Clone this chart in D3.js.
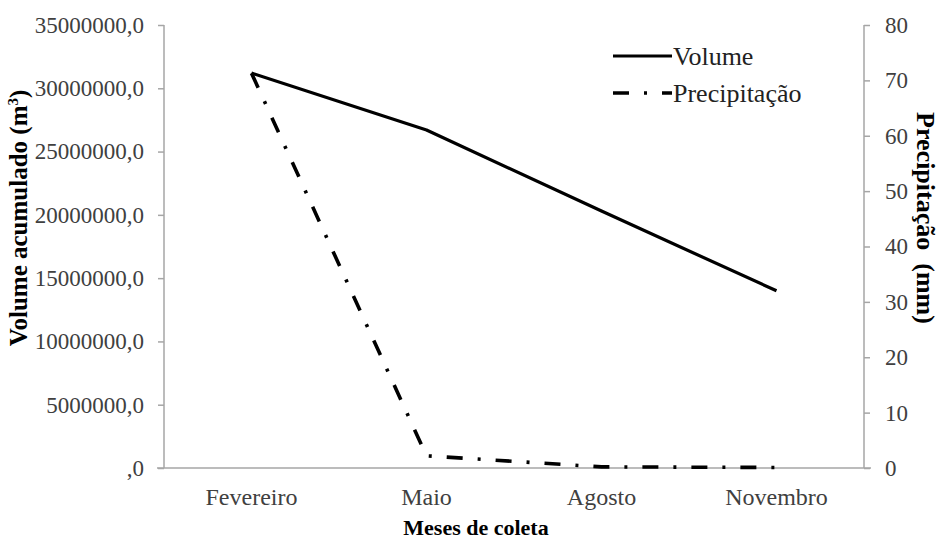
<!DOCTYPE html>
<html>
<head>
<meta charset="utf-8">
<script src="https://cdn.jsdelivr.net/npm/d3@7"></script>
<style>
  html, body { margin: 0; padding: 0; background: #fff; }
  svg { display: block; }
</style>
</head>
<body>
<svg id="chart" width="939" height="541"></svg>
<script>
// Collection months and series
const months = ["Fevereiro", "Maio", "Agosto", "Novembro"];
const volume = [31200000, 26700000, 20300000, 14000000];     // m³ accumulated
const precipitation = [71.3, 2.2, 0.2, 0.1];                 // mm

// Axis ticks and their printed labels
const volumeTicks = [0, 5000000, 10000000, 15000000, 20000000, 25000000, 30000000, 35000000];
const volumeTickLabels = [",0", "5000000,0", "10000000,0", "15000000,0", "20000000,0", "25000000,0", "30000000,0", "35000000,0"];
const precipTicks = [0, 10, 20, 30, 40, 50, 60, 70, 80];
const precipTickLabels = ["0", "10", "20", "30", "40", "50", "60", "70", "80"];

const seriesNames = ["Volume", "Precipitação"];

const svg = d3.select("#chart");
const plotLeft = 164, plotRight = 864, plotTop = 25, plotBottom = 468;
const serif = "'Liberation Serif', 'DejaVu Serif', serif";
const axisColor = "#a6a6a6";
const tickText = "#404040";
const dashDot = "16,15,3,15";

const x = d3.scaleBand().domain(months).range([plotLeft, plotRight]);
const yVol = d3.scaleLinear().domain([0, 35000000]).range([plotBottom, plotTop]);
const yPre = d3.scaleLinear().domain([0, 80]).range([plotBottom, plotTop]);

// Left axis (volume)
const leftAxis = svg.append("g")
  .attr("transform", `translate(${plotLeft},0)`)
  .call(d3.axisLeft(yVol).tickValues(volumeTicks)
    .tickFormat((d, i) => volumeTickLabels[i]).tickSize(6).tickPadding(14));
// Right axis (precipitation)
const rightAxis = svg.append("g")
  .attr("transform", `translate(${plotRight},0)`)
  .call(d3.axisRight(yPre).tickValues(precipTicks)
    .tickFormat((d, i) => precipTickLabels[i]).tickSize(6).tickPadding(15));

[leftAxis, rightAxis].forEach(g => {
  g.attr("font-family", serif);
  g.select(".domain").remove();
  g.selectAll(".tick line").attr("stroke", axisColor).attr("stroke-width", 1.5);
  g.selectAll(".tick text")
    .style("font-family", serif).attr("font-size", 23)
    .attr("fill", tickText);
  g.append("line").attr("x1", 0).attr("x2", 0).attr("y1", plotTop).attr("y2", plotBottom)
    .attr("stroke", axisColor).attr("stroke-width", 1.5);
});

// Bottom axis with category labels
const bottomAxis = svg.append("g")
  .attr("transform", `translate(0,${plotBottom})`)
  .attr("font-family", serif)
  .call(d3.axisBottom(x).tickSize(0).tickPadding(20));
bottomAxis.select(".domain").remove();
bottomAxis.append("line").attr("x1", plotLeft - 7).attr("x2", plotRight + 7)
  .attr("stroke", axisColor).attr("stroke-width", 1.5);
bottomAxis.selectAll(".tick text")
  .style("font-family", serif).attr("font-size", 24).attr("fill", tickText);

// Series lines
const volLine = d3.line().x((d, i) => x(months[i]) + x.bandwidth() / 2).y(d => yVol(d));
const preLine = d3.line().x((d, i) => x(months[i]) + x.bandwidth() / 2).y(d => yPre(d));

svg.append("path").datum(volume)
  .attr("d", volLine).attr("fill", "none")
  .attr("stroke", "#000").attr("stroke-width", 3.2).attr("stroke-linejoin", "round");
svg.append("path").datum(precipitation)
  .attr("d", preLine).attr("fill", "none")
  .attr("stroke", "#000").attr("stroke-width", 3.6)
  .attr("stroke-dasharray", dashDot);

// Axis titles
const volTitle = svg.append("text")
  .attr("transform", "translate(27,218) rotate(-90)")
  .attr("text-anchor", "middle")
  .style("font-family", serif).attr("font-size", 25).attr("font-weight", "bold")
  .attr("fill", "#000");
volTitle.append("tspan").text("Volume acumulado (m");
volTitle.append("tspan").attr("font-size", 15).attr("dy", -9).text("3");
volTitle.append("tspan").attr("dy", 9).text(")");

svg.append("text")
  .attr("transform", "translate(917,218) rotate(90)")
  .attr("text-anchor", "middle")
  .style("font-family", serif).attr("font-size", 26).attr("font-weight", "bold")
  .attr("fill", "#000")
  .style("white-space", "pre")
  .text("Precipitação  (mm)");

svg.append("text")
  .attr("x", 476).attr("y", 535)
  .attr("text-anchor", "middle")
  .style("font-family", serif).attr("font-size", 22).attr("font-weight", "bold")
  .attr("fill", "#000")
  .text("Meses de coleta");

// Legend
const legend = svg.append("g").attr("transform", "translate(613,56)");
seriesNames.forEach((name, i) => {
  const g = legend.append("g").attr("transform", `translate(0,${i * 37})`);
  g.append("line").attr("x1", 0).attr("x2", 59)
    .attr("stroke", "#000").attr("stroke-width", i === 0 ? 3.2 : 3.6)
    .attr("stroke-dasharray", i === 0 ? null : dashDot);
  g.append("text").attr("x", 60).attr("y", 0).attr("dy", "0.33em")
    .style("font-family", serif).attr("font-size", 26).attr("fill", "#222")
    .text(name);
});
</script>
</body>
</html>
